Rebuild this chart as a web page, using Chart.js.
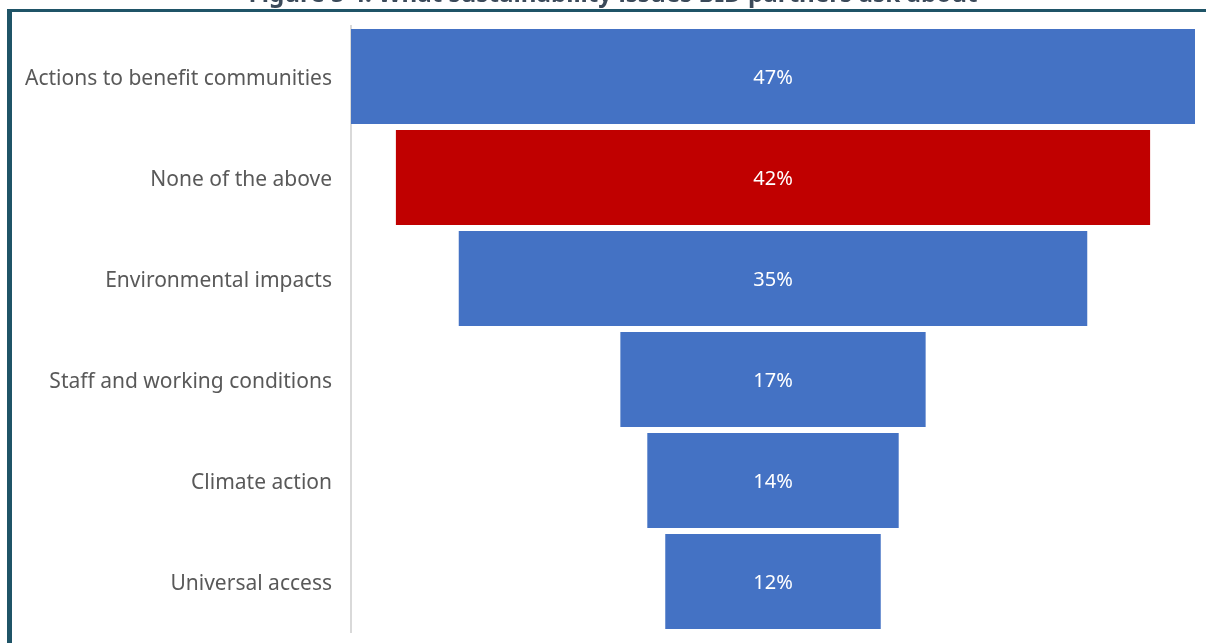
<!DOCTYPE html>
<html lang="en">
<head>
<meta charset="UTF-8" />
<title>What sustainability issues BID partners ask about</title>
<script src="https://cdn.jsdelivr.net/npm/chart.js"></script>
<style>
  body { margin: 0; padding: 0; background: #ffffff; }
  #wrap { width: 1206px; height: 643px; }
</style>
</head>
<body>
<div id="wrap"><canvas id="funnel" width="1206" height="643"></canvas></div>
<script>
const titleText = "Figure 5 4: What sustainability issues BID partners ask about";
const categories = [
  "Actions to benefit communities",
  "None of the above",
  "Environmental impacts",
  "Staff and working conditions",
  "Climate action",
  "Universal access"
];
const percentValues = [47, 42, 35, 17, 14, 12];
const barColors = ["#4472C4", "#C00000", "#4472C4", "#4472C4", "#4472C4", "#4472C4"];

const maxVal = Math.max(...percentValues);
// funnel: each bar centred on zero
const floating = percentValues.map(v => [-v / 2, v / 2]);

const frameAndTitle = {
  id: "frameAndTitle",
  beforeDraw(chart) {
    const ctx = chart.ctx;
    ctx.save();
    ctx.fillStyle = "#ffffff";
    ctx.fillRect(0, 0, chart.width, chart.height);
    // cropped title at the top
    ctx.fillStyle = "#3B4A5A";
    ctx.font = "bold 22px 'Noto Sans'";
    const w = ctx.measureText(titleText).width;
    ctx.font = "bold " + (22 * 730 / w).toFixed(1) + "px 'Noto Sans'";
    ctx.textAlign = "center";
    ctx.textBaseline = "alphabetic";
    ctx.fillText(titleText, 613, 2);
    // frame
    ctx.fillStyle = "#1F5467";
    ctx.fillRect(7, 9, chart.width - 7, 3);
    ctx.fillRect(7, 9, 5, chart.height - 9);
    ctx.restore();
  }
};

const valueLabels = {
  id: "valueLabels",
  afterDatasetsDraw(chart) {
    const ctx = chart.ctx;
    const meta = chart.getDatasetMeta(0);
    ctx.save();
    ctx.fillStyle = "#ffffff";
    ctx.font = "20px 'Noto Sans'";
    ctx.textAlign = "center";
    ctx.textBaseline = "middle";
    meta.data.forEach((bar, i) => {
      const p = bar.getProps(["x", "y", "base"], true);
      ctx.fillText(percentValues[i] + "%", (p.x + p.base) / 2, p.y + 2);
    });
    ctx.restore();
  }
};

new Chart(document.getElementById("funnel"), {
  type: "bar",
  data: {
    labels: categories,
    datasets: [{
      data: floating,
      backgroundColor: barColors,
      borderWidth: 0,
      barPercentage: 0.94,
      categoryPercentage: 1.0
    }]
  },
  options: {
    indexAxis: "y",
    responsive: false,
    animation: false,
    layout: { padding: { left: 0, right: 11, top: 26, bottom: 11 } },
    plugins: {
      legend: { display: false },
      tooltip: { enabled: false },
      title: { display: false }
    },
    scales: {
      x: {
        min: -maxVal / 2,
        max: maxVal / 2,
        display: false
      },
      y: {
        afterFit(scale) {
          scale.width = 351;
          scale.paddingTop = 0;
          scale.paddingBottom = 0;
        },
        grid: { display: false, drawTicks: true, tickLength: 16 },
        border: { display: true, color: "#D9D9D9", width: 2 },
        ticks: {
          color: "#595959",
          padding: 3,
          labelOffset: 3,
          font: { family: "'Noto Sans'", size: 21 }
        }
      }
    }
  },
  plugins: [frameAndTitle, valueLabels]
});
</script>
</body>
</html>
